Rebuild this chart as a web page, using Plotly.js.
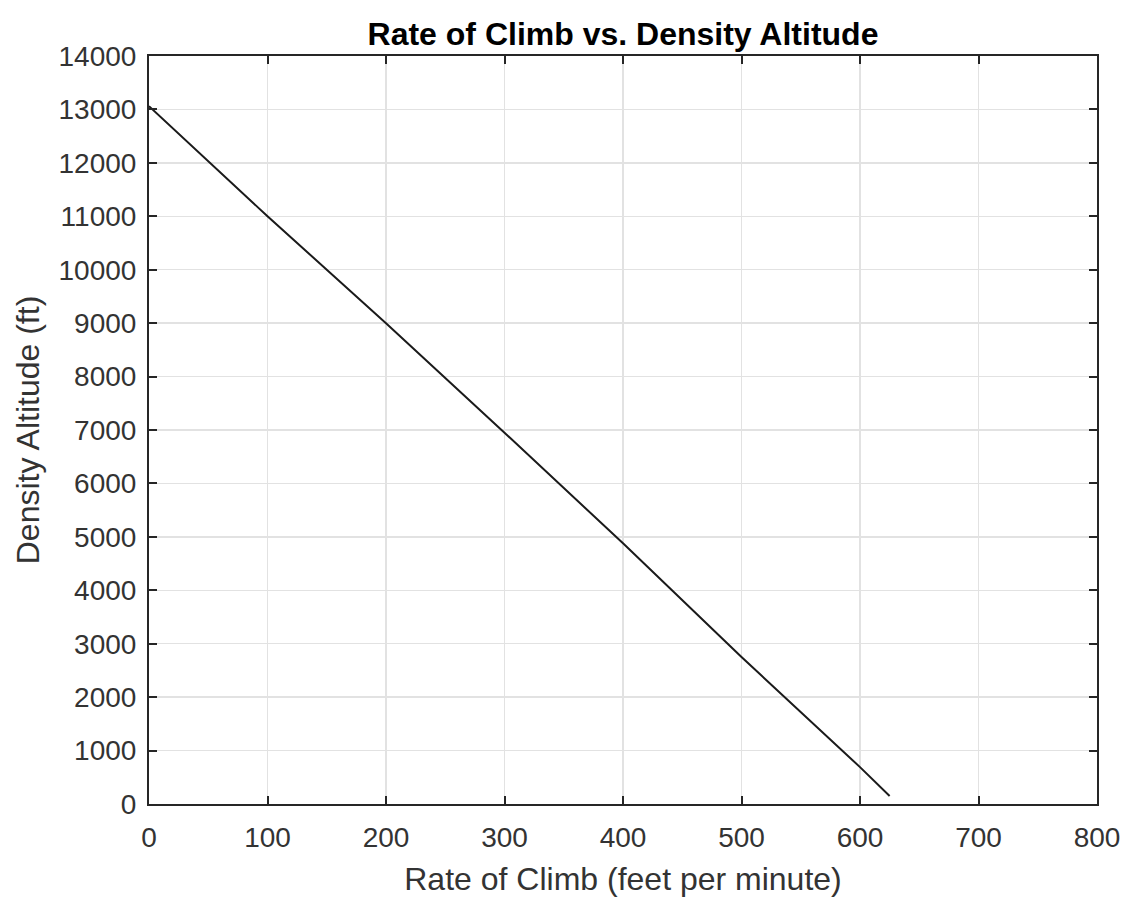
<!DOCTYPE html>
<html><head><meta charset="utf-8">
<script src="https://cdn.plot.ly/plotly-3.0.1.min.js"></script>
<style>html,body{margin:0;padding:0;background:#fff}#plot{width:1126px;height:904px}</style>
</head><body><div id="plot"></div>
<script>
const rateOfClimb = [0, 100, 200, 300, 400, 500, 600, 625];
const densityAltitude = [13060, 11000, 9000, 6950, 4880, 2750, 690, 150];
const xTicks = [0, 100, 200, 300, 400, 500, 600, 700, 800];
const yTicks = [0,1000,2000,3000,4000,5000,6000,7000,8000,9000,10000,11000,12000,13000,14000];

const FONT = 'Liberation Sans, Arial, Helvetica, sans-serif';
const axisCommon = {
  showline: true, linecolor: '#262626', linewidth: 2, mirror: 'allticks',
  ticks: 'inside', ticklen: 8, tickcolor: '#262626', tickwidth: 2,
  showgrid: true, gridcolor: '#e2e2e2', gridwidth: 1.5,
  zeroline: false,
  tickfont: {family: FONT, size: 28, color: '#333333'}
};

Plotly.newPlot('plot', [{
  x: rateOfClimb, y: densityAltitude, type: 'scatter', mode: 'lines',
  line: {color: '#1a1a1a', width: 2}, hoverinfo: 'skip'
}], {
  width: 1126, height: 904,
  margin: {l: 149, r: 29, t: 56, b: 100},
  paper_bgcolor: '#fff', plot_bgcolor: '#fff',
  showlegend: false,
  title: {text: '<b>Rate of Climb vs. Density Altitude</b>', xref: 'paper', x: 0.5, xanchor: 'center',
    yref: 'container', y: 0.963, yanchor: 'middle',
    font: {family: FONT, size: 32, color: '#000'}},
  xaxis: Object.assign({}, axisCommon, {
    range: [0, 800], tickvals: xTicks, ticktext: xTicks.map(String), ticklabelstandoff: 7,
    title: {text: 'Rate of Climb (feet per minute)', standoff: 16,
      font: {family: FONT, size: 32, color: '#333333'}}
  }),
  yaxis: Object.assign({}, axisCommon, {
    range: [0, 14000], tickvals: yTicks, ticktext: yTicks.map(String), ticklabelstandoff: 5,
    title: {text: 'Density Altitude (ft)', standoff: 9,
      font: {family: FONT, size: 32, color: '#333333'}}
  })
}, {staticPlot: true});
</script></body></html>
